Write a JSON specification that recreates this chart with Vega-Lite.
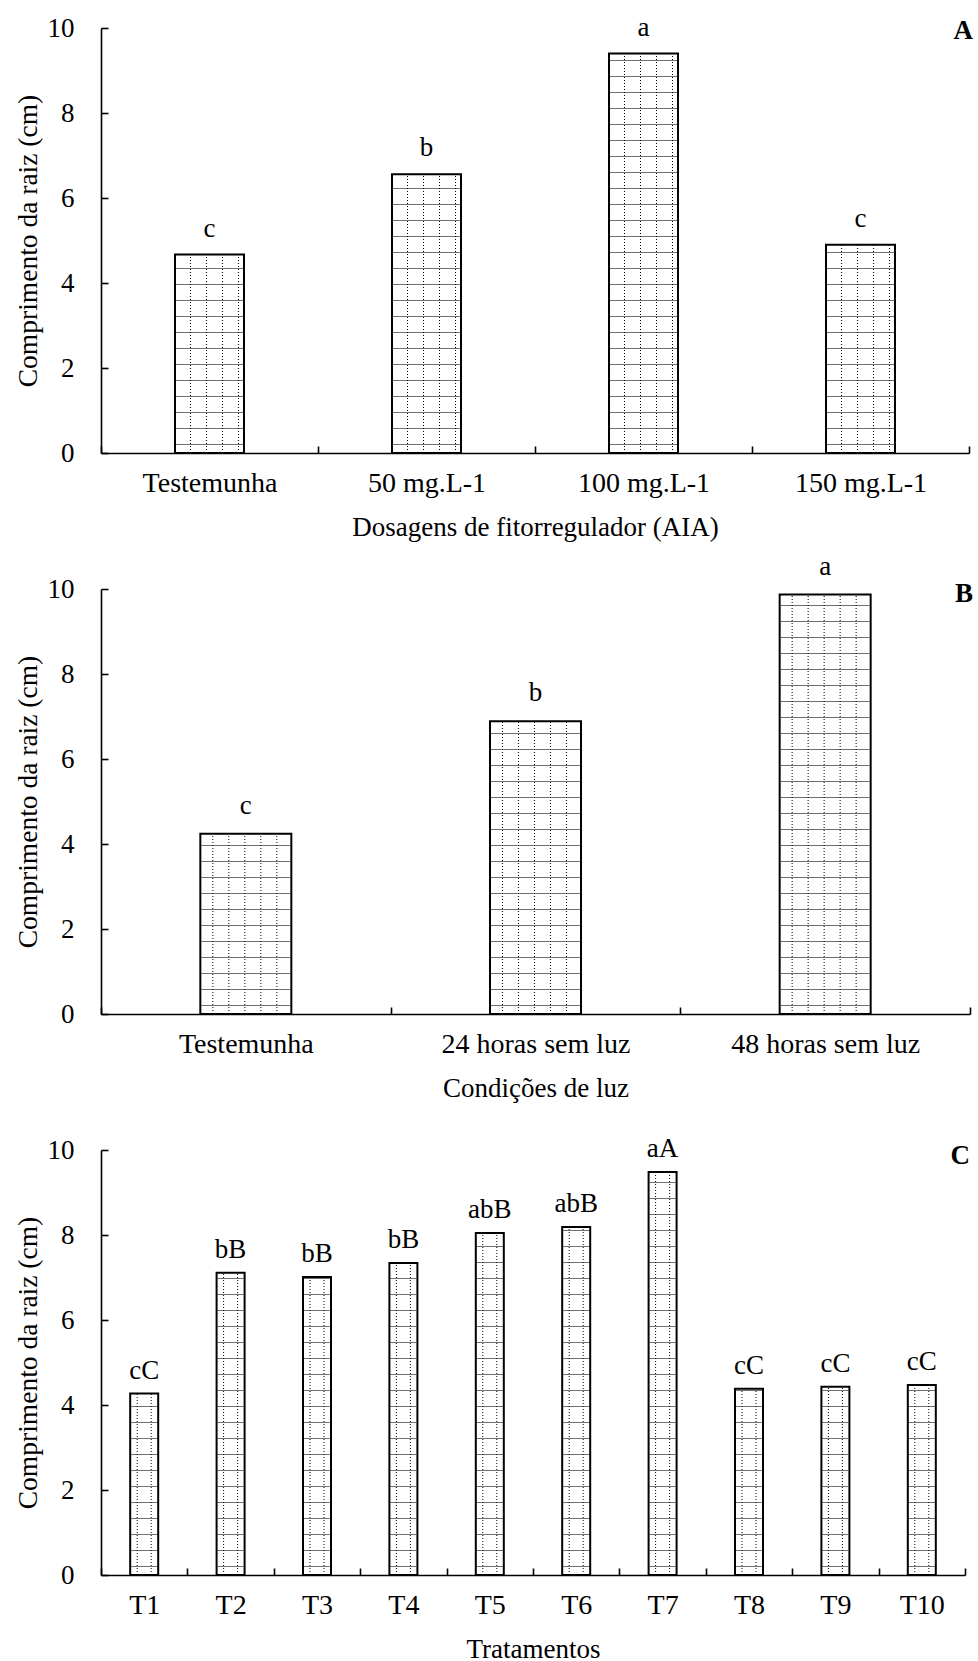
{
  "$schema": "https://vega.github.io/schema/vega-lite/v6.json",
  "padding": {"left": 14, "top": 13, "right": 0, "bottom": 0},
  "background": "white",
  "bounds": "flush",
  "spacing": 136,
  "config": {
    "font": "Liberation Serif",
    "view": {"stroke": null},
    "axis": {"grid": false, "domainColor": "black", "domainWidth": 1.6, "tickColor": "black", "tickWidth": 1.6, "tickSize": -7, "labelFontSize": 28, "titleFontSize": 27.5, "labelColor": "black", "titleColor": "black", "titleFontWeight": "normal", "labelFont": "Liberation Serif", "titleFont": "Liberation Serif", "labelLimit": 0},
    "axisX": {"labelAngle": 0, "tickBand": "extent", "labelBaseline": "alphabetic", "labelPadding": 45, "titleBaseline": "middle", "titleY": 74, "titleFontSize": 27},
    "axisY": {"labelPadding": 34, "titleX": -73, "titleBaseline": "middle", "labelFontSize": 27},
    "text": {"font": "Liberation Serif", "fontSize": 27, "color": "black"}
  },
  "vconcat": [
    {
      "width": 868, "height": 425,
      "data": {"values": [
        {"cat": "Testemunha", "v": 4.67, "lab": "c"},
        {"cat": "50 mg.L-1", "v": 6.56, "lab": "b"},
        {"cat": "100 mg.L-1", "v": 9.40, "lab": "a"},
        {"cat": "150 mg.L-1", "v": 4.90, "lab": "c"}
      ]},
      "encoding": {
        "x": {"field": "cat", "type": "nominal", "sort": null, "scale": {"paddingInner": 0, "paddingOuter": 0}, "axis": {"title": "Dosagens de fitorregulador (AIA)"}},
        "y": {"field": "v", "type": "quantitative", "scale": {"domain": [0, 10]}, "axis": {"title": "Comprimento da raiz (cm)", "values": [0, 2, 4, 6, 8, 10]}}
      },
      "layer": [
        {"mark": {"type": "bar", "width": 69, "fill": "white"}},
        {"mark": {"type": "rule", "strokeWidth": 67, "strokeDash": [1, 15], "strokeDashOffset": 8, "color": "#707070"}, "encoding": {"y": {"datum": 0, "type": "quantitative"}, "y2": {"field": "v"}}},
        {"mark": {"type": "rule", "xOffset": -19, "strokeDash": [1, 2], "strokeWidth": 1, "color": "#000"}, "encoding": {"y": {"datum": 0, "type": "quantitative"}, "y2": {"field": "v"}}},
        {"mark": {"type": "rule", "xOffset": -3, "strokeDash": [1, 2], "strokeWidth": 1, "color": "#000"}, "encoding": {"y": {"datum": 0, "type": "quantitative"}, "y2": {"field": "v"}}},
        {"mark": {"type": "rule", "xOffset": 13, "strokeDash": [1, 2], "strokeWidth": 1, "color": "#000"}, "encoding": {"y": {"datum": 0, "type": "quantitative"}, "y2": {"field": "v"}}},
        {"mark": {"type": "rule", "xOffset": 29, "strokeDash": [1, 2], "strokeWidth": 1, "color": "#000"}, "encoding": {"y": {"datum": 0, "type": "quantitative"}, "y2": {"field": "v"}}},
        {"mark": {"type": "bar", "width": 69, "fillOpacity": 0, "stroke": "black", "strokeWidth": 2}},
        {"mark": {"type": "text", "dy": -18, "baseline": "alphabetic"}, "encoding": {"text": {"field": "lab"}}},
        {"data": {"values": [{"p": "A"}]}, "mark": {"type": "text", "align": "right", "baseline": "alphabetic", "fontWeight": "bold", "dy": 11, "dx": 4}, "encoding": {"text": {"field": "p"}, "x": {"value": "width"}, "y": {"value": 0}}}
      ]
    },
    {
      "width": 869, "height": 425,
      "data": {"values": [
        {"cat": "Testemunha", "v": 4.24, "lab": "c"},
        {"cat": "24 horas sem luz", "v": 6.89, "lab": "b"},
        {"cat": "48 horas sem luz", "v": 9.87, "lab": "a"}
      ]},
      "encoding": {
        "x": {"field": "cat", "type": "nominal", "sort": null, "scale": {"paddingInner": 0, "paddingOuter": 0}, "axis": {"title": "Condições de luz"}},
        "y": {"field": "v", "type": "quantitative", "scale": {"domain": [0, 10]}, "axis": {"title": "Comprimento da raiz (cm)", "values": [0, 2, 4, 6, 8, 10]}}
      },
      "layer": [
        {"mark": {"type": "bar", "width": 91, "fill": "white"}},
        {"mark": {"type": "rule", "strokeWidth": 89, "strokeDash": [1, 15], "strokeDashOffset": 8, "color": "#707070"}, "encoding": {"y": {"datum": 0, "type": "quantitative"}, "y2": {"field": "v"}}},
        {"mark": {"type": "rule", "xOffset": -33, "strokeDash": [1, 2], "strokeWidth": 1, "color": "#000"}, "encoding": {"y": {"datum": 0, "type": "quantitative"}, "y2": {"field": "v"}}},
        {"mark": {"type": "rule", "xOffset": -17, "strokeDash": [1, 2], "strokeWidth": 1, "color": "#000"}, "encoding": {"y": {"datum": 0, "type": "quantitative"}, "y2": {"field": "v"}}},
        {"mark": {"type": "rule", "xOffset": -1, "strokeDash": [1, 2], "strokeWidth": 1, "color": "#000"}, "encoding": {"y": {"datum": 0, "type": "quantitative"}, "y2": {"field": "v"}}},
        {"mark": {"type": "rule", "xOffset": 15, "strokeDash": [1, 2], "strokeWidth": 1, "color": "#000"}, "encoding": {"y": {"datum": 0, "type": "quantitative"}, "y2": {"field": "v"}}},
        {"mark": {"type": "rule", "xOffset": 31, "strokeDash": [1, 2], "strokeWidth": 1, "color": "#000"}, "encoding": {"y": {"datum": 0, "type": "quantitative"}, "y2": {"field": "v"}}},
        {"mark": {"type": "bar", "width": 91, "fillOpacity": 0, "stroke": "black", "strokeWidth": 2}},
        {"mark": {"type": "text", "dy": -20, "baseline": "alphabetic"}, "encoding": {"text": {"field": "lab"}}},
        {"data": {"values": [{"p": "B"}]}, "mark": {"type": "text", "align": "right", "baseline": "alphabetic", "fontWeight": "bold", "dy": 13, "dx": 3}, "encoding": {"text": {"field": "p"}, "x": {"value": "width"}, "y": {"value": 0}}}
      ]
    },
    {
      "width": 864, "height": 425,
      "data": {"values": [
        {"cat": "T1", "v": 4.27, "lab": "cC"},
        {"cat": "T2", "v": 7.11, "lab": "bB"},
        {"cat": "T3", "v": 7.01, "lab": "bB"},
        {"cat": "T4", "v": 7.34, "lab": "bB"},
        {"cat": "T5", "v": 8.05, "lab": "abB"},
        {"cat": "T6", "v": 8.19, "lab": "abB"},
        {"cat": "T7", "v": 9.48, "lab": "aA"},
        {"cat": "T8", "v": 4.38, "lab": "cC"},
        {"cat": "T9", "v": 4.43, "lab": "cC"},
        {"cat": "T10", "v": 4.47, "lab": "cC"}
      ]},
      "encoding": {
        "x": {"field": "cat", "type": "nominal", "sort": null, "scale": {"paddingInner": 0, "paddingOuter": 0}, "axis": {"title": "Tratamentos"}},
        "y": {"field": "v", "type": "quantitative", "scale": {"domain": [0, 10]}, "axis": {"title": "Comprimento da raiz (cm)", "values": [0, 2, 4, 6, 8, 10]}}
      },
      "layer": [
        {"mark": {"type": "bar", "width": 28, "fill": "white"}},
        {"mark": {"type": "rule", "strokeWidth": 26, "strokeDash": [1, 15], "strokeDashOffset": 8, "color": "#707070"}, "encoding": {"y": {"datum": 0, "type": "quantitative"}, "y2": {"field": "v"}}},
        {"mark": {"type": "rule", "xOffset": -7, "strokeDash": [1, 2], "strokeWidth": 1, "color": "#000"}, "encoding": {"y": {"datum": 0, "type": "quantitative"}, "y2": {"field": "v"}}},
        {"mark": {"type": "rule", "xOffset": 7, "strokeDash": [1, 2], "strokeWidth": 1, "color": "#000"}, "encoding": {"y": {"datum": 0, "type": "quantitative"}, "y2": {"field": "v"}}},
        {"mark": {"type": "bar", "width": 28, "fillOpacity": 0, "stroke": "black", "strokeWidth": 2}},
        {"mark": {"type": "text", "dy": -15, "baseline": "alphabetic"}, "encoding": {"text": {"field": "lab"}}},
        {"data": {"values": [{"p": "C"}]}, "mark": {"type": "text", "align": "right", "baseline": "alphabetic", "fontWeight": "bold", "dy": 14, "dx": 5}, "encoding": {"text": {"field": "p"}, "x": {"value": "width"}, "y": {"value": 0}}}
      ]
    }
  ]
}
